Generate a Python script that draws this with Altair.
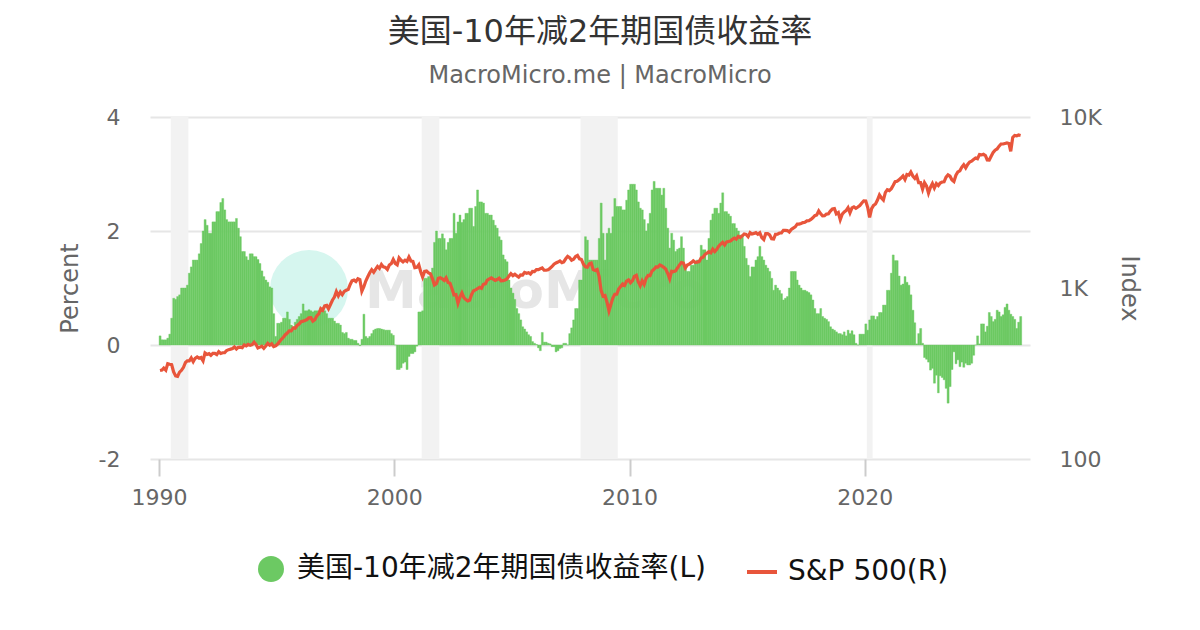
import altair as alt
import pandas as pd

TITLE = "美国-10年减2年期国债收益率"
SUBTITLE = "MacroMicro.me | MacroMicro"
SERIES_L = "美国-10年减2年期国债收益率(L)"
SERIES_R = "S&P 500(R)"
FONT = "DejaVu Sans, Noto Sans CJK SC"
GREEN = "#6cc963"
RED = "#e8553b"

# 10Y-2Y spread (percent), monthly from Jan 1990
SPREAD_1990S = [
    0.16, 0.09, 0.09, 0.09, 0.12, 0.19, 0.47, 0.82, 0.80, 0.85, 0.88, 1.00,
    1.00, 1.00, 1.05, 1.26, 1.37, 1.49, 1.49, 1.49, 1.60, 1.78, 2.00, 2.20,
    2.10, 1.96, 1.96, 2.16, 2.16, 2.34, 2.34, 2.50, 2.57, 2.37, 2.20, 2.16,
    2.16, 2.16, 2.16, 2.22, 2.05, 1.90, 1.64, 1.64, 1.55, 1.49, 1.60, 1.60,
    1.55, 1.55, 1.50, 1.43, 1.30, 1.20, 1.14, 1.10, 1.02, 1.00, 0.55, 0.15,
    0.38, 0.38, 0.40, 0.47, 0.47, 0.58, 0.45, 0.35, 0.32, 0.40, 0.45, 0.50,
    0.55, 0.72, 0.60, 0.60, 0.62, 0.60, 0.58, 0.60, 0.60, 0.60, 0.64, 0.64,
    0.60, 0.55, 0.47, 0.47, 0.47, 0.42, 0.38, 0.38, 0.35, 0.22, 0.20, 0.22,
    0.12, 0.10, 0.10, 0.08, 0.08, 0.03, -0.01, 0.10, 0.54, 0.15, 0.12, 0.15,
    0.20, 0.26, 0.28, 0.29, 0.29, 0.28, 0.27, 0.26, 0.26, 0.26, 0.20, 0.17,
]
SPREAD_2000S = [
    0.00, -0.43, -0.43, -0.40, -0.32, -0.30, -0.43, -0.20, -0.15, -0.15, -0.12, -0.02,
    0.58, 0.58, 0.60, 1.17, 1.17, 1.20, 1.20, 1.35, 1.80, 2.00, 1.87, 1.87,
    1.95, 1.87, 1.67, 1.80, 1.87, 1.87, 2.31, 1.96, 2.16, 2.28, 2.15, 2.20,
    2.31, 2.31, 2.40, 2.40, 2.08, 2.43, 2.72, 2.51, 2.51, 2.49, 2.31, 2.31,
    2.28, 2.28, 2.19, 2.10, 2.05, 1.90, 1.84, 1.58, 1.50, 1.46, 1.14, 1.00,
    0.91, 0.80, 0.64, 0.55, 0.44, 0.32, 0.28, 0.23, 0.18, 0.15, 0.06, 0.03,
    0.01, -0.05, -0.10, 0.22, 0.05, 0.05, 0.03, 0.02, -0.03, -0.03, -0.12, -0.10,
    -0.06, -0.05, 0.03, 0.03, 0.00, 0.20, 0.30, 0.44, 0.64, 0.64, 1.14, 1.14,
    1.43, 1.90, 1.84, 1.49, 1.49, 1.49, 1.49, 1.49, 1.87, 2.49, 1.96, 1.49,
    1.96, 2.05, 1.96, 2.25, 2.57, 2.43, 2.43, 2.43, 2.37, 2.37, 2.54, 2.72,
]
SPREAD_2010S = [
    2.82, 2.82, 2.82, 2.72, 2.51, 2.40, 2.37, 2.20, 2.00, 2.13, 2.31, 2.72,
    2.87, 2.75, 2.75, 2.75, 2.63, 2.75, 2.40, 2.05, 1.70, 1.96, 1.84, 1.64,
    1.68, 1.70, 1.90, 1.70, 1.40, 1.29, 1.29, 1.40, 1.40, 1.45, 1.49, 1.49,
    1.75, 1.67, 1.67, 1.49, 1.87, 2.19, 2.30, 2.40, 2.40, 2.31, 2.49, 2.67,
    2.34, 2.34, 2.30, 2.26, 2.13, 2.13, 2.05, 2.00, 1.93, 1.93, 1.73, 1.52,
    1.40, 1.20, 1.37, 1.37, 1.49, 1.55, 1.73, 1.55, 1.49, 1.40, 1.35, 1.29,
    1.17, 0.96, 1.05, 1.00, 0.96, 0.90, 0.79, 0.82, 0.85, 1.00, 1.29, 1.29,
    1.29, 1.14, 1.05, 1.00, 0.96, 0.96, 0.94, 0.92, 0.88, 0.79, 0.64, 0.55,
    0.55, 0.64, 0.50, 0.47, 0.45, 0.41, 0.32, 0.28, 0.26, 0.23, 0.20, 0.20,
    0.18, 0.23, 0.16, 0.26, 0.20, 0.25, 0.18, 0.03, 0.00, 0.19, 0.19, 0.19,
]
SPREAD_2020S = [
    0.37, 0.26, 0.44, 0.51, 0.51, 0.45, 0.50, 0.57, 0.57, 0.70, 0.70, 0.96,
    0.96, 1.26, 1.58, 1.48, 1.48, 1.21, 1.05, 1.07, 1.20, 1.10, 1.05, 0.88,
    0.61, 0.39, 0.02, 0.20, 0.29, 0.03, -0.22, -0.25, -0.30, -0.44, -0.41, -0.67,
    -0.53, -0.84, -0.54, -0.57, -0.61, -0.76, -1.02, -0.73, -0.43, -0.12, -0.33, -0.26,
    -0.38, -0.30, -0.39, -0.32, -0.35, -0.35, -0.32, -0.18, 0.00, 0.16, 0.02, 0.37,
    0.37, 0.23, 0.33, 0.57, 0.50, 0.41, 0.45, 0.61, 0.58, 0.50, 0.53, 0.66,
    0.72, 0.61, 0.54, 0.50, 0.45, 0.29, 0.40, 0.50,
]

# S&P 500 index level, monthly from Jan 1990
SP_1990S = [
    329, 331, 340, 331, 361, 358, 356, 323, 306, 304, 322, 330,
    344, 367, 375, 375, 390, 371, 388, 395, 388, 392, 375, 417,
    409, 413, 404, 415, 415, 408, 424, 414, 418, 419, 431, 436,
    439, 443, 452, 440, 450, 451, 448, 464, 459, 468, 462, 466,
    482, 467, 446, 451, 457, 444, 458, 475, 463, 472, 454, 459,
    470, 487, 501, 515, 533, 545, 562, 562, 584, 582, 605, 616,
    636, 640, 646, 654, 669, 671, 640, 652, 687, 705, 757, 741,
    786, 791, 757, 801, 848, 885, 954, 899, 947, 915, 955, 970,
    980, 1049, 1102, 1112, 1091, 1134, 1121, 957, 1017, 1099, 1164, 1229,
    1280, 1238, 1286, 1335, 1302, 1373, 1329, 1320, 1283, 1363, 1389, 1469,
]
SP_2000S = [
    1394, 1366, 1499, 1452, 1421, 1455, 1431, 1518, 1437, 1429, 1315, 1320,
    1366, 1240, 1160, 1249, 1256, 1224, 1211, 1134, 1041, 1060, 1139, 1148,
    1130, 1107, 1147, 1077, 1067, 990, 912, 916, 815, 886, 936, 880,
    856, 841, 848, 917, 964, 975, 990, 1008, 996, 1051, 1058, 1112,
    1131, 1145, 1126, 1107, 1121, 1141, 1102, 1104, 1115, 1130, 1174, 1212,
    1181, 1204, 1181, 1157, 1192, 1191, 1234, 1220, 1229, 1207, 1249, 1248,
    1280, 1281, 1295, 1311, 1270, 1270, 1277, 1304, 1336, 1378, 1401, 1418,
    1438, 1407, 1421, 1482, 1531, 1503, 1455, 1474, 1527, 1549, 1481, 1468,
    1379, 1331, 1323, 1386, 1400, 1280, 1267, 1283, 1165, 969, 896, 903,
    826, 735, 798, 873, 919, 919, 987, 1021, 1057, 1036, 1096, 1115,
]
SP_2010S = [
    1074, 1104, 1169, 1187, 1089, 1031, 1102, 1049, 1141, 1183, 1181, 1258,
    1286, 1327, 1326, 1364, 1345, 1321, 1292, 1219, 1131, 1253, 1247, 1258,
    1312, 1366, 1408, 1398, 1310, 1362, 1379, 1407, 1441, 1412, 1416, 1426,
    1498, 1515, 1569, 1598, 1631, 1606, 1686, 1633, 1682, 1757, 1806, 1848,
    1783, 1859, 1872, 1884, 1924, 1960, 1931, 2003, 1972, 2018, 2068, 2059,
    1995, 2105, 2068, 2086, 2107, 2063, 2104, 1972, 1920, 2079, 2080, 2044,
    1940, 1932, 2060, 2065, 2097, 2099, 2174, 2171, 2168, 2126, 2199, 2239,
    2279, 2364, 2363, 2384, 2412, 2423, 2470, 2472, 2519, 2575, 2648, 2674,
    2824, 2714, 2641, 2648, 2705, 2718, 2816, 2902, 2914, 2712, 2760, 2507,
    2704, 2784, 2834, 2946, 2752, 2942, 2980, 2926, 2977, 3038, 3141, 3231,
]
SP_2020S = [
    3226, 2954, 2585, 2912, 3044, 3100, 3271, 3500, 3363, 3270, 3622, 3756,
    3714, 3811, 3973, 4181, 4204, 4298, 4395, 4523, 4308, 4605, 4567, 4766,
    4516, 4374, 4530, 4132, 4132, 3785, 4130, 3955, 3586, 3872, 4080, 3840,
    4077, 3970, 4109, 4169, 4180, 4450, 4589, 4508, 4288, 4194, 4568, 4770,
    4846, 5096, 5254, 5036, 5278, 5460, 5522, 5648, 5762, 5705, 6032, 6000,
    6050, 5950, 5612, 5600, 5900, 6200, 6400, 6500, 6750, 6950, 6950, 7000,
    7050, 7000, 6300, 7600, 7800, 7750, 7850, 7800,
]

# Recession periods (shaded)
REC_START = ["1990-07-01", "2001-03-01", "2007-12-01", "2020-02-01"]
REC_END = ["1991-04-01", "2001-11-30", "2009-07-01", "2020-04-30"]

spread = SPREAD_1990S + SPREAD_2000S + SPREAD_2010S + SPREAD_2020S
sp = SP_1990S + SP_2000S + SP_2010S + SP_2020S
dates = pd.date_range("1990-01-01", periods=len(spread), freq="MS")

df_bar = pd.DataFrame({
    "date": dates,
    "date_end": dates + pd.DateOffset(months=1),
    "spread": spread,
    "series": SERIES_L,
})
df_line = pd.DataFrame({
    "date": dates + pd.Timedelta(days=14),
    "sp": sp,
    "series": SERIES_R,
})
df_rec = pd.DataFrame({"start": pd.to_datetime(REC_START), "end": pd.to_datetime(REC_END)})
df_one = pd.DataFrame({"k": [0]})

W, H = 880, 342

xscale = alt.Scale(domain=[alt.DateTime(year=1989, month=8, date=13),
                           alt.DateTime(year=2027, month=1, date=8)])
xaxis = alt.Axis(
    values=[alt.DateTime(year=y, month=1, date=1) for y in (1990, 2000, 2010, 2020)],
    format="%Y", grid=False, domain=False, ticks=True, tickSize=17,
    tickColor="#cccccc", tickWidth=2, labelFontSize=22, labelColor="#666666",
    labelFont=FONT, labelPadding=11, title=None,
)


def X(field):
    return alt.X(field, scale=xscale, axis=xaxis, title=None)


rect = alt.Chart(df_rec).mark_rect(color="#f2f2f2").encode(
    x=X("start:T"), x2="end:T",
    y=alt.value(0), y2=alt.value(H),
)

wm_circle = alt.Chart(df_one).mark_point(
    filled=True, shape="circle", size=6084, color="#d6f6ef", opacity=1, strokeWidth=0
).encode(x=alt.value(159), y=alt.value(172))

wm_text = alt.Chart(df_one).mark_text(
    text="MacroMicro", font="DejaVu Sans", fontSize=52, fontWeight="bold",
    color="#e6e6e6", align="left", baseline="alphabetic"
).encode(x=alt.value(215), y=alt.value(191))

bars = alt.Chart(df_bar).mark_bar(stroke=GREEN, strokeWidth=0.4).encode(
    x=X("date:T"), x2="date_end:T",
    y=alt.Y("spread:Q",
            scale=alt.Scale(domain=[-2, 4], nice=False),
            axis=alt.Axis(
                orient="left", values=[-2, 0, 2, 4], labelExpr="'' + datum.value",
                grid=True, gridColor="#e6e6e6", gridWidth=2, domain=False, ticks=False,
                labelFontSize=22, labelColor="#666666", labelFont=FONT, labelPadding=30,
                title="Percent", titleFontSize=24, titleColor="#666666",
                titleFontWeight="normal", titleFont=FONT, titleX=-80, titleY=H / 2,
                titleAngle=270, titleBaseline="middle", titleAlign="center",
            )),
    y2=alt.datum(0),
    color=alt.Color("series:N",
                    scale=alt.Scale(domain=[SERIES_L], range=[GREEN]),
                    legend=alt.Legend(
                        orient="none", legendX=107, legendY=438, title=None,
                        symbolType="circle", symbolSize=676, symbolStrokeWidth=0,
                        symbolOpacity=1, labelFontSize=28, labelColor="#111111",
                        labelFont=FONT, labelOffset=12, padding=0, labelLimit=0,
                    )),
)

line = alt.Chart(df_line).mark_line(strokeWidth=3.2).encode(
    x=X("date:T"),
    y=alt.Y("sp:Q",
            scale=alt.Scale(type="log", domain=[100, 10000], nice=False),
            axis=alt.Axis(
                orient="right", values=[100, 1000, 10000],
                labelExpr="datum.value >= 1000 ? (datum.value / 1000) + 'K' : '' + datum.value",
                grid=False, domain=False, ticks=False,
                labelFontSize=22, labelColor="#666666", labelFont=FONT, labelPadding=29,
                title="Index", titleFontSize=24, titleColor="#666666",
                titleFontWeight="normal", titleFont=FONT, titleX=98, titleY=H / 2,
                titleAngle=90, titleBaseline="middle", titleAlign="center",
            )),
    stroke=alt.Stroke("series:N",
                      scale=alt.Scale(domain=[SERIES_R], range=[RED]),
                      legend=alt.Legend(
                          orient="none", legendX=595, legendY=438, title=None,
                          symbolType="stroke", symbolSize=900, symbolStrokeWidth=4,
                          labelFontSize=28, labelColor="#111111", labelFont=FONT,
                          labelOffset=9, padding=0, labelLimit=0,
                      )),
)

chart = alt.layer(rect, wm_circle, wm_text, bars, line).resolve_scale(
    y="independent", color="independent", stroke="independent"
).properties(
    width=W, height=H,
    autosize=alt.AutoSizeParams(type="none"),
    padding={"left": 142, "top": 109, "right": 162, "bottom": 163},
    title=alt.TitleParams(
        text=TITLE, subtitle=SUBTITLE, anchor="middle", dx=10,
        fontSize=32, font=FONT, color="#333333", fontWeight="normal",
        subtitleFontSize=24, subtitleFont=FONT, subtitleColor="#666666",
        subtitlePadding=15, offset=17,
    ),
).configure_view(strokeWidth=0)

chart.save("out.html", embed_options={"renderer": "svg", "actions": False})
